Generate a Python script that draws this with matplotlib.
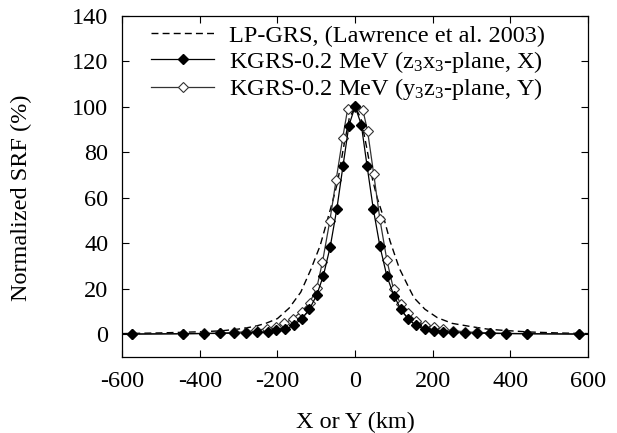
import matplotlib
matplotlib.use("Agg")
import matplotlib.pyplot as plt

plt.rcParams['font.family'] = ['Liberation Serif', 'DejaVu Serif']
plt.rcParams['mathtext.fontset'] = 'custom'
plt.rcParams['mathtext.rm'] = 'Liberation Serif'
plt.rcParams['mathtext.it'] = 'Liberation Serif'
plt.rcParams['axes.unicode_minus'] = False

# LP-GRS spatial response function (dashed reference curve)
lp_x = [-600, -500, -400, -346, -300, -260, -230, -200, -170, -140,
        -114, -90, -71, -57, -45, -30, -15, 0,
        15, 30, 45, 57, 75, 90, 114, 140, 152, 180,
        212, 250, 298, 340, 383, 450, 520, 600]
lp_y = [0.3, 0.6, 1.1, 1.5, 2.3, 3.4, 4.8, 6.9, 11.5, 18.5,
        28.5, 39, 50.5, 59, 67, 82, 95, 100,
        95, 82, 68, 60, 50.5, 41, 29, 20, 16, 11,
        7.3, 4.8, 3.4, 2.3, 1.7, 1.0, 0.6, 0.3]

# KGRS 0.2 MeV, z3x3-plane (X direction)
kx_x = [-575, -443, -390, -347, -311, -281, -253, -225, -203, -180,
        -158, -137, -118, -99, -82, -64, -47, -31, -16, 0,
        16, 31, 47, 64, 82, 100, 118, 136, 156, 179,
        203, 226, 252, 282, 313, 347, 389, 443, 576]
kx_y = [0.1, 0.2, 0.3, 0.4, 0.5, 0.6, 0.8, 1.2, 1.8, 2.2,
        3.9, 6.9, 10.9, 17.2, 25.6, 38.5, 55.2, 74.2, 91.8, 100.2,
        92.2, 73.9, 55, 38.7, 25.5, 17, 11, 6.9, 3.9, 2.2,
        1.5, 1.0, 0.8, 0.6, 0.5, 0.4, 0.3, 0.2, 0.1]

# KGRS 0.2 MeV, y3z3-plane (Y direction)
ky_x = [-575, -443, -390, -347, -311, -281, -254, -228, -204, -182,
        -160, -138, -117, -99, -84, -65, -49, -32, -19, 0,
        20, 32, 48, 64, 82, 99, 117, 136, 156, 179,
        203, 226, 252, 282, 313, 347, 389, 443, 576]
ky_y = [0.1, 0.3, 0.4, 0.5, 0.8, 1.1, 1.7, 2.5, 3.4, 4.8,
        6.9, 10.0, 13.9, 20.2, 31.8, 50, 67.7, 86.3, 99.2, 100,
        98.7, 89.6, 70.5, 50.5, 32.5, 19.8, 13.5, 9.3, 6.0, 4.2,
        3.0, 2.2, 1.6, 1.1, 0.8, 0.6, 0.4, 0.3, 0.1]

x_ticks = [-600, -400, -200, 0, 200, 400, 600]
y_ticks = [0, 20, 40, 60, 80, 100, 120, 140]

FS = 17.5

fig = plt.figure(figsize=(6.17, 4.33), dpi=100)
ax = fig.add_axes([0.198, 0.1755, 0.755, 0.7875])

l1, = ax.plot(lp_x, lp_y, color='black', lw=1.0, ls=(0, (5, 3)),
              label='LP-GRS, (Lawrence et al. 2003)')
l3, = ax.plot(ky_x, ky_y, color='#333333', lw=0.9, marker='D', ms=4.8,
              mfc='white', mec='#333333', mew=0.8,
              label='KGRS-0.2 MeV (y$_3$z$_3$-plane, Y)')
l2, = ax.plot(kx_x, kx_y, color='black', lw=0.9, marker='D', ms=4.8,
              mfc='black', mec='black',
              label='KGRS-0.2 MeV (z$_3$x$_3$-plane, X)')

ax.set_xlim(-600, 600)
ax.set_ylim(-10, 140)
ax.set_xticks(x_ticks)
ax.set_yticks(y_ticks)
ax.tick_params(direction='in', length=5, width=0.8, labelsize=FS,
               top=True, right=True, pad=10)
for s in ax.spines.values():
    s.set_linewidth(0.9)

ax.set_xlabel('X or Y (km)', fontsize=FS)
ax.set_ylabel('Normalized SRF (%)', fontsize=FS)
ax.xaxis.set_label_coords(0.5, -0.16)
ax.yaxis.set_label_coords(-0.193, 0.466)

ax.legend(handles=[l1, l2, l3], loc='upper left', bbox_to_anchor=(0.062, 0.975),
          frameon=False, fontsize=FS, handlelength=2.6, handletextpad=0.6,
          labelspacing=0.08, borderaxespad=0.0, borderpad=0.0)

fig.savefig('out.png', dpi=100)
